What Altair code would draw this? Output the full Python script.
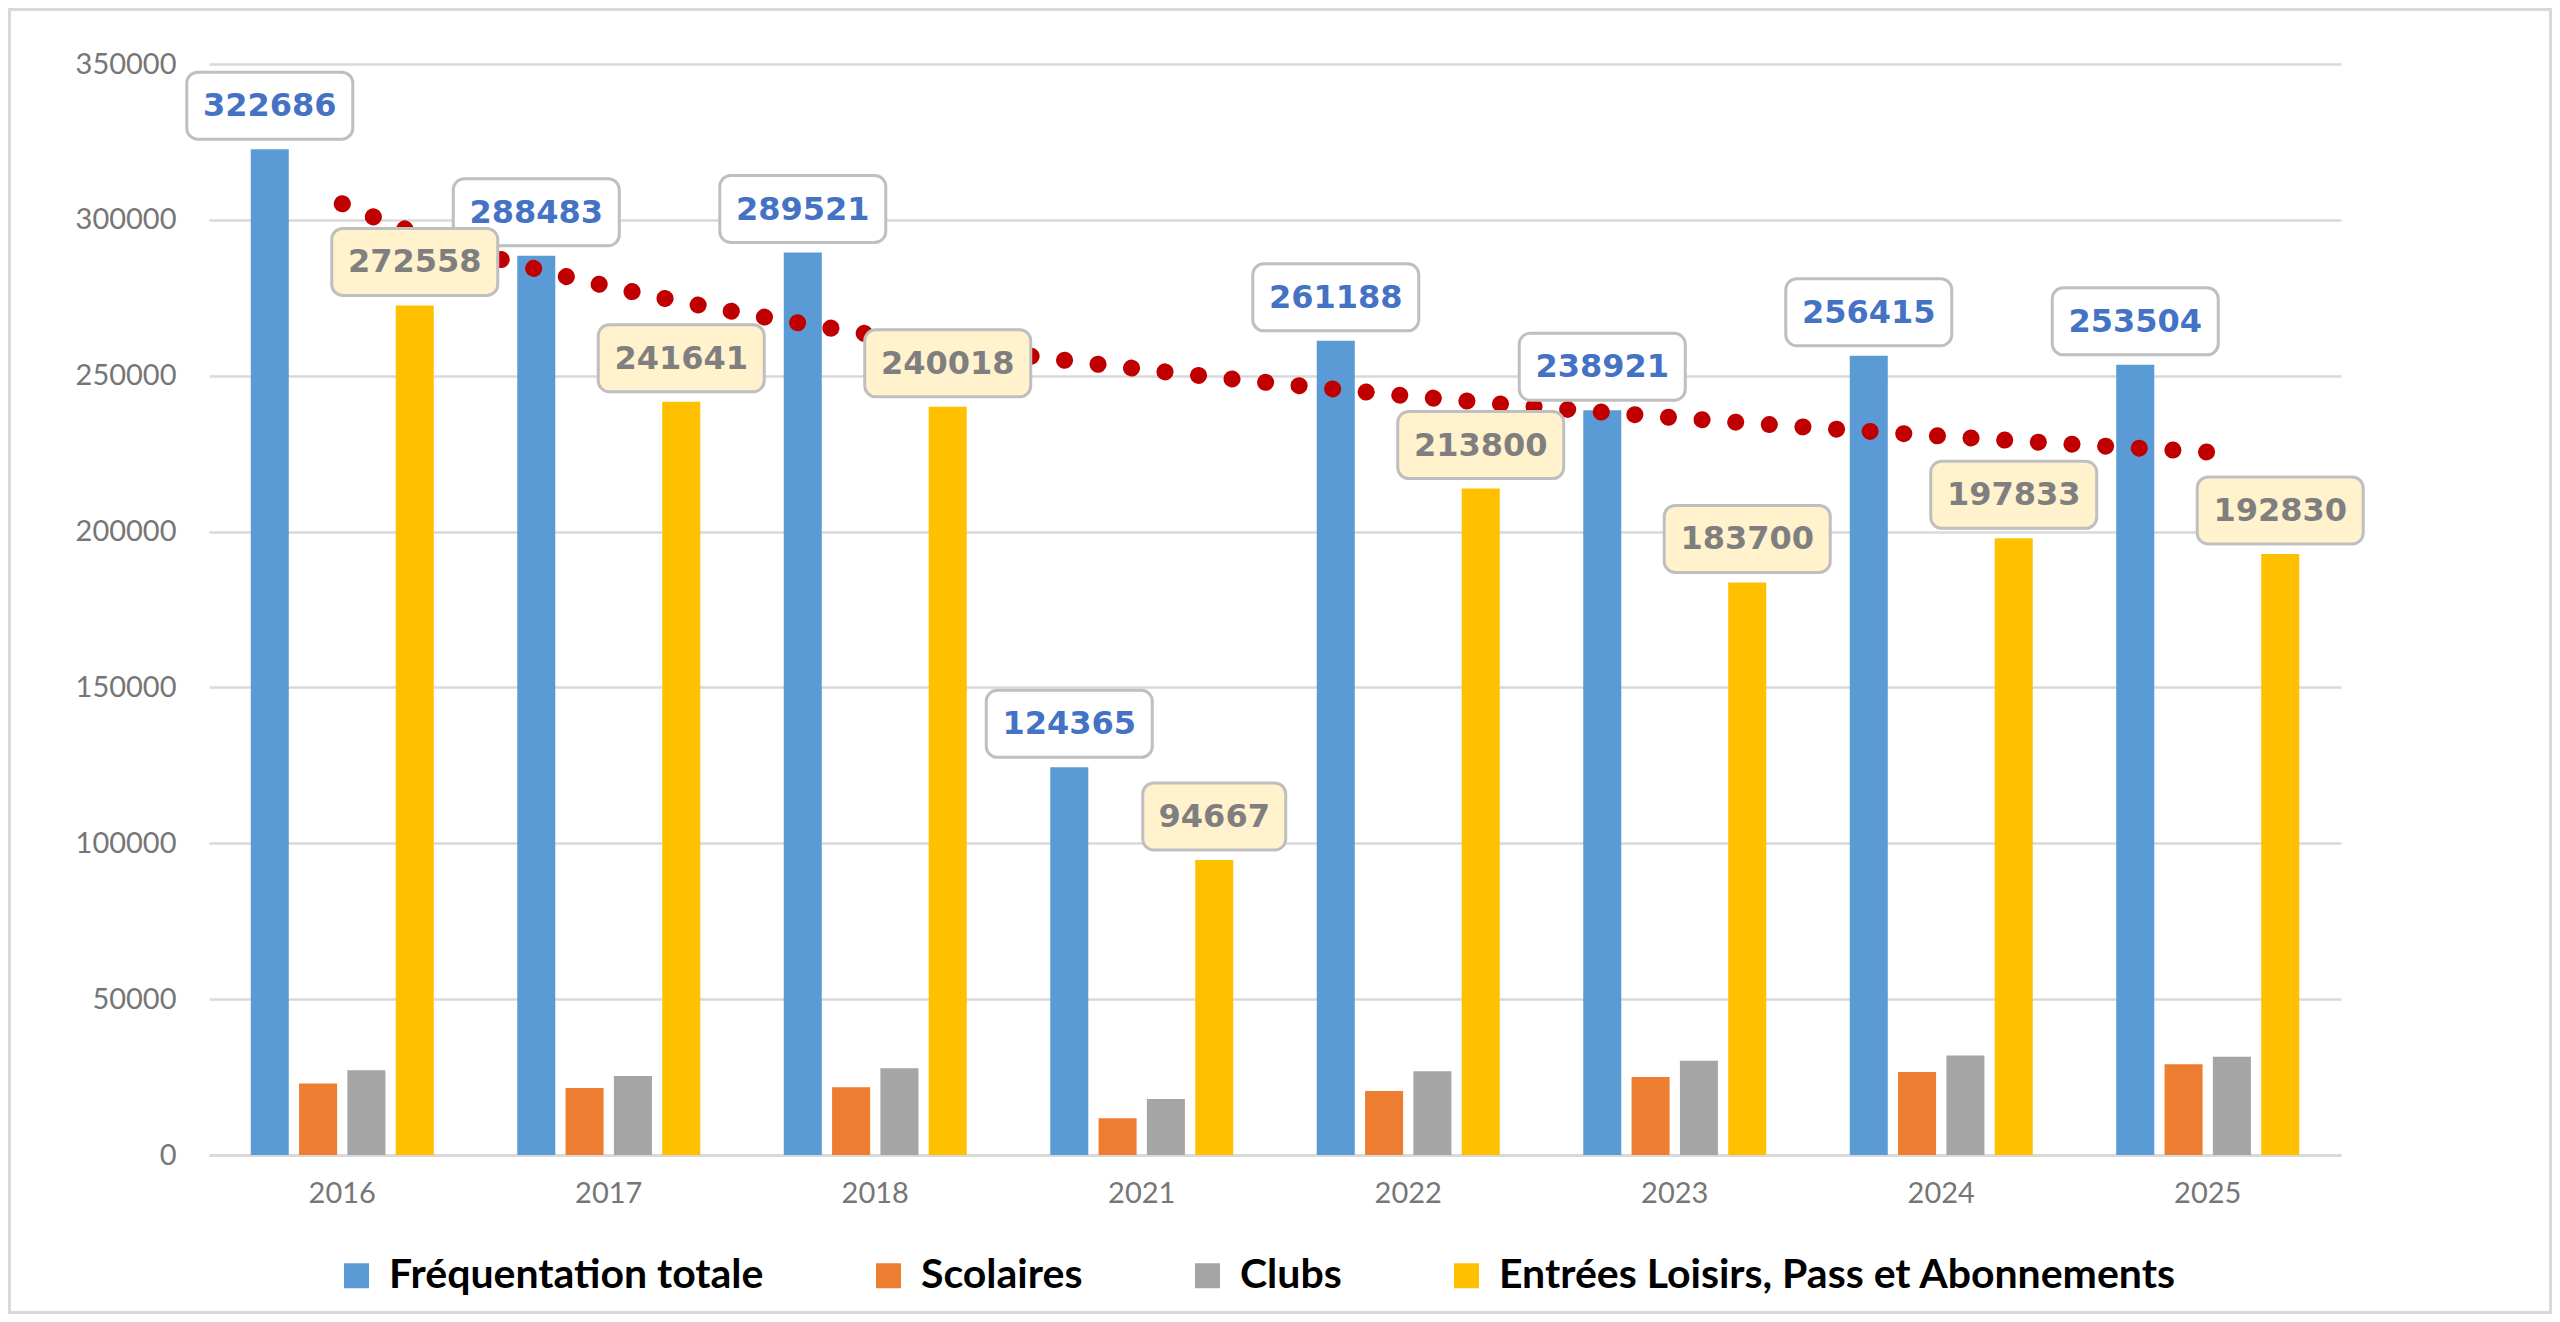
import altair as alt
import pandas as pd

# ---------------- data ----------------
years = ["2016", "2017", "2018", "2021", "2022", "2023", "2024", "2025"]
series_names = [
    "Fréquentation totale",
    "Scolaires",
    "Clubs",
    "Entrées Loisirs, Pass et Abonnements",
]
totale = [322686, 288483, 289521, 124365, 261188, 238921, 256415, 253504]
scolaires = [22900, 21500, 21700, 11750, 20500, 25000, 26600, 29100]
clubs = [27200, 25350, 27800, 17950, 26850, 30250, 31950, 31550]
loisirs = [272558, 241641, 240018, 94667, 213800, 183700, 197833, 192830]
year_index = [1, 2, 3, 4, 5, 6, 7, 8]
y_ticks = [0, 50000, 100000, 150000, 200000, 250000, 300000, 350000]
colors = ["#5B9BD5", "#ED7D31", "#A5A5A5", "#FFC000"]

rows = []
for i, y in enumerate(years):
    for s, vals in zip(series_names, [totale, scolaires, clubs, loisirs]):
        rows.append({"year": y, "series": s, "value": vals[i]})
df = pd.DataFrame(rows)
trend_df = pd.DataFrame({"idx": year_index, "total": totale})

# ---------------- layout ----------------
W, H = 2132, 1091
PAD_L, PAD_T = 201, 56
PAD_R = 2544 - PAD_L - W
PAD_B = 1306 - PAD_T - H

AXIS_FONT = "Lato"
AXIS_COLOR = "#767676"

xs = alt.Scale(type="band", domain=years, paddingInner=0.3133, paddingOuter=0.1567)
xos = alt.Scale(type="band", domain=series_names, paddingInner=0.213, paddingOuter=0)
ys = alt.Scale(domain=[0, 350000], nice=False, zero=True)


def xenc(axis=None):
    return alt.X("year:N", scale=xs, axis=axis)


def xoenc():
    return alt.XOffset("series:N", scale=xos)


x_axis = alt.Axis(
    title=None, labelAngle=0, labelFont=AXIS_FONT, labelFontSize=29,
    labelColor=AXIS_COLOR, ticks=False, domainColor="#D9D9D9",
    domainWidth=3, labelPadding=24, grid=False,
)
y_axis = alt.Axis(
    title=None, values=y_ticks, format="d", labelFont=AXIS_FONT,
    labelFontSize=29, labelColor=AXIS_COLOR, labelPadding=33, ticks=False,
    domain=False, grid=True, gridColor="#D9D9D9", gridWidth=2.5,
)


def yenc(field="value"):
    return alt.Y(f"{field}:Q", scale=ys, axis=y_axis)


legend = alt.Legend(
    title=None, orient="none", legendX=127, legendY=1191,
    direction="horizontal", columns=4, symbolType="square", symbolSize=625,
    symbolStrokeWidth=0, labelFont=AXIS_FONT, labelFontWeight="bold",
    labelFontSize=41, labelColor="#000000", labelLimit=1200, labelOffset=12,
    columnPadding=104, padding=0,
)

bars = alt.Chart(df).mark_bar().encode(
    x=xenc(x_axis),
    xOffset=xoenc(),
    y=yenc(),
    color=alt.Color("series:N", scale=alt.Scale(domain=series_names, range=colors),
                    legend=legend),
)

trend = (
    alt.Chart(trend_df)
    .transform_regression("idx", "total", method="log")
    .mark_line(color="#C00000", strokeWidth=17, strokeDash=[0.1, 33.6], strokeCap="round")
    .encode(
        x=alt.X("idx:Q", scale=alt.Scale(domain=[0.5, 8.5], nice=False, zero=False), axis=None),
        y=yenc("total"),
    )
)


def box(series, width, fill, extra_filter=None):
    expr = f"datum.series === '{series}'"
    if extra_filter:
        expr += " && " + extra_filter
    return (
        alt.Chart(df)
        .transform_filter(expr)
        .mark_bar(width=width, cornerRadius=11, fill=fill, stroke="#BFBFBF",
                  strokeWidth=3, yOffset=-77, y2Offset=-10)
        .encode(x=xenc(), xOffset=xoenc(), y=yenc(), y2=alt.Y2("value"))
    )


def label_text(series, color):
    return (
        alt.Chart(df)
        .transform_filter(f"datum.series === '{series}'")
        .mark_text(font="DejaVu Sans", fontWeight="bold", fontSize=32, color=color,
                   baseline="middle", align="center", dy=-43)
        .encode(x=xenc(), xOffset=xoenc(), y=yenc(),
                text=alt.Text("value:Q", format="d"))
    )


S_TOT = series_names[0]
S_LOI = series_names[3]

border = alt.Chart(pd.DataFrame({"a": [0]})).mark_rect(
    fillOpacity=0, stroke="#D9D9D9", strokeWidth=3
).encode(
    x=alt.value(-PAD_L + 1.5), x2=alt.value(W + PAD_R - 1.5),
    y=alt.value(-PAD_T + 1.5), y2=alt.value(H + PAD_B - 1.5),
)

chart = alt.layer(
    border,
    bars,
    trend,
    box(S_TOT, 166, "#FFFFFF"),
    label_text(S_TOT, "#4472C4"),
    box(S_LOI, 166, "#FFF2CC", "datum.value >= 100000"),
    box(S_LOI, 143, "#FFF2CC", "datum.value < 100000"),
    label_text(S_LOI, "#7F7F7F"),
).resolve_scale(
    x="independent", xOffset="independent"
).properties(
    width=W, height=H, autosize="none",
    padding={"left": PAD_L, "top": PAD_T, "right": PAD_R, "bottom": PAD_B},
    background="#FFFFFF",
).configure_view(strokeWidth=0)

chart.save("out.html", embed_options={"renderer": "svg", "actions": False})
